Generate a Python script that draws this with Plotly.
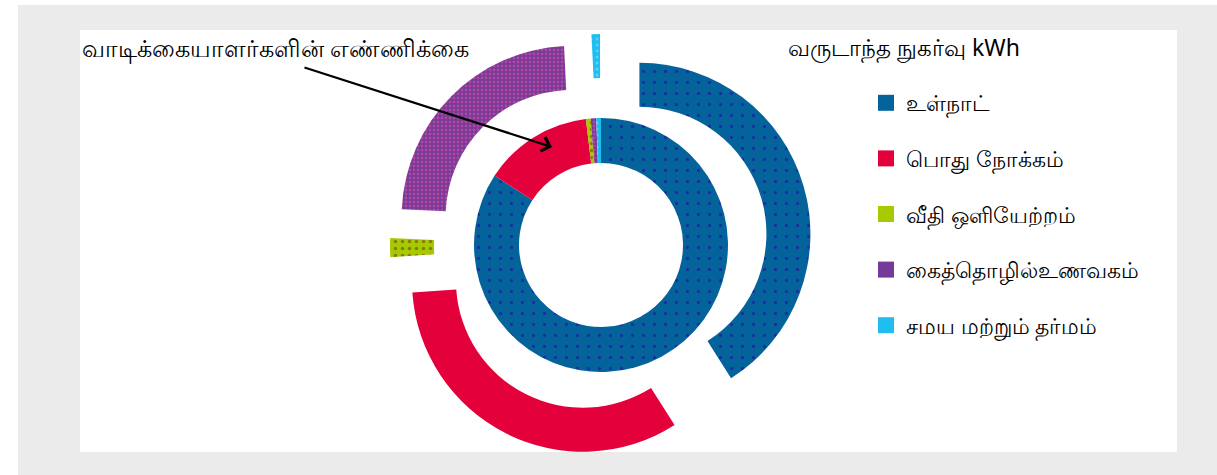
import plotly.graph_objects as go

W, H = 1217, 475

categories = ["உள்நாட்", "பொது நோக்கம்", "வீதி ஒளியேற்றம்", "கைத்தொழில்உணவகம்", "சமய மற்றும் தர்மம்"]
consumers_pct = [84.2, 13.9, 0.6, 0.7, 0.6]        # inner ring: number of consumers
consumption_pct = [41.0, 32.9, 1.8, 23.5, 0.8]     # outer ring: annual consumption kWh
inner_title = "வாடிக்கையாளர்களின் எண்ணிக்கை"
outer_title = "வருடாந்த நுகர்வு kWh"

colors = ["#04639b", "#e4003a", "#a6ca00", "#74399a", "#1fbdf0"]
pat_shapes = [".", "", ".", ".", "."]
pat_fg = ["#1a2f9f", "#e4003a", "#8a7a10", "#b0489e", "#4cd6ff"]

cx, cy = 601, 245
R_out, pull = 171, 0.234
R_in = 127
hole_r = 82

def dom(r_box):
    return dict(x=[(cx - r_box) / W, (cx + r_box) / W],
                y=[1 - (cy + r_box) / H, 1 - (cy - r_box) / H])

marker = dict(colors=colors, line=dict(width=0),
              pattern=dict(shape=pat_shapes, fgcolor=pat_fg, bgcolor=colors,
                           size=[11, 8, 7, 4, 6], solidity=[0.07, 0.1, 0.2, 0.4, 0.2]))

fig = go.Figure()
fig.add_trace(go.Pie(
    labels=categories, values=consumption_pct, sort=False, direction="clockwise",
    rotation=0, hole=R_in / R_out, pull=[pull] * len(categories),
    domain=dom(R_out * (1 + pull)), textinfo="none", showlegend=False,
    marker=marker, name=outer_title,
))
fig.add_trace(go.Pie(
    labels=categories, values=consumers_pct, sort=False, direction="clockwise",
    rotation=0, hole=hole_r / R_in,
    domain=dom(R_in), textinfo="none", showlegend=False,
    marker=marker, name=inner_title,
))

# legend entries (one per category)
for i, (c, col) in enumerate(zip(categories, colors)):
    fig.add_trace(go.Scatter(x=[None], y=[None], mode="markers", name=c,
                             legendgroup=f"g{i}", showlegend=True, hoverinfo="skip",
                             marker=dict(symbol="square", size=16, color=col)))

fig.add_annotation(text=inner_title, xref="paper", yref="paper", x=80 / W, y=1 - 47 / H,
                   xanchor="left", yanchor="middle", showarrow=False,
                   font=dict(size=24, color="black"))
fig.add_annotation(text="", xref="paper", yref="paper", x=552 / W, y=1 - 147 / H,
                   ax=303 - 552, ay=67 - 147, axref="pixel", ayref="pixel",
                   showarrow=True, arrowhead=4, arrowsize=1.3, arrowwidth=2.2, arrowcolor="black")
fig.add_annotation(text=outer_title, xref="paper", yref="paper", x=786 / W, y=1 - 47 / H,
                   xanchor="left", yanchor="middle", showarrow=False,
                   font=dict(size=23, color="black"))

fig.update_layout(
    width=W, height=H, margin=dict(l=0, r=0, t=0, b=0),
    paper_bgcolor="white", plot_bgcolor="rgba(0,0,0,0)",
    font=dict(family="Noto Sans, DejaVu Sans, sans-serif", size=22, color="black"),
    xaxis=dict(visible=False), yaxis=dict(visible=False),
    legend=dict(x=866 / W, y=1 - 82 / H, xanchor="left", yanchor="top",
                font=dict(size=22), bgcolor="rgba(0,0,0,0)", tracegroupgap=24),
    shapes=[
        dict(type="rect", xref="paper", yref="paper", x0=18 / W, x1=1, y0=0, y1=1 - 5 / H,
             fillcolor="#ebebeb", line=dict(width=0), layer="below"),
        dict(type="rect", xref="paper", yref="paper", x0=80 / W, x1=1177 / W,
             y0=1 - 452 / H, y1=1 - 30 / H, fillcolor="white", line=dict(width=0), layer="below"),
    ],
)
fig.write_html("out.html", config={"displayModeBar": False},
               post_script="document.body.style.margin='0';")
